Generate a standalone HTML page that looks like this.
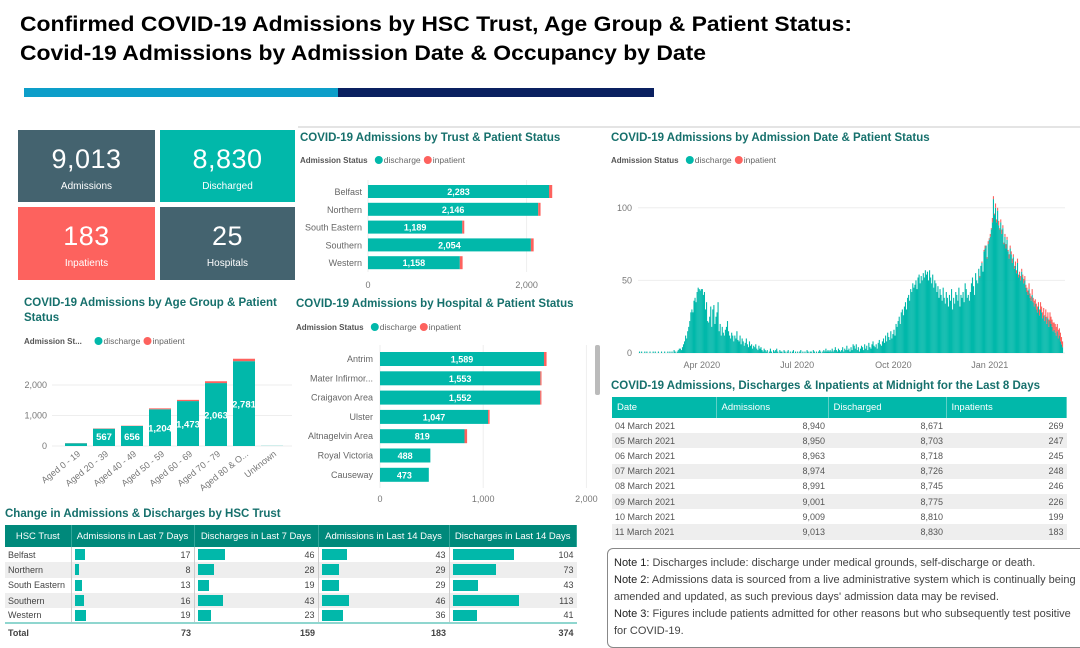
<!DOCTYPE html>
<html><head><meta charset="utf-8">
<style>
*{margin:0;padding:0;box-sizing:border-box}
body{width:1080px;height:645px;overflow:hidden;background:#fff;font-family:"Liberation Sans",sans-serif;position:relative}
.abs{position:absolute}
.card{position:absolute;color:#fff;text-align:center}
.card .num{position:absolute;left:0;right:0;top:14px;font-size:27px;letter-spacing:0.5px}
.card .lab{position:absolute;left:0;right:0;top:51px;font-size:10px}
table{border-collapse:collapse;position:absolute;font-size:9px;color:#444}
td,th{padding:0 3px;white-space:nowrap;overflow:hidden}
.t1 th{background:#00897b;color:#fff;font-weight:normal;font-size:9.5px;height:22px;border-right:1px solid #33a79b}
.t1 td{height:15.3px;position:relative}
.t1 tr.g td{background:#eeeeee}
.bar{position:absolute;left:3px;top:2px;height:11px;background:#01b8aa}
.t1 td.v{text-align:right;border-left:1px solid #ccc}
.t2 th{background:#01b8aa;color:#fff;font-weight:normal;font-size:9.5px;height:21px;text-align:left;padding-left:5px;border-right:1px solid #5fd0c7}
.t2 td{height:15.2px;color:#555}
.t2 tr.g td{background:#eeeeee}
.t2 td.r{text-align:right}
.notes{position:absolute;left:607px;top:548px;width:480px;height:100px;border:1px solid #888;border-radius:6px;padding:6px 6px;font-size:11px;line-height:17px;color:#444}
.notes b{font-weight:normal;color:#222}
</style></head>
<body>
<svg class="abs" style="left:0;top:0" width="1080" height="100">
<text x="20" y="31" font-family="Liberation Sans" font-weight="bold" font-size="21" textLength="832" lengthAdjust="spacingAndGlyphs">Confirmed COVID-19 Admissions by HSC Trust, Age Group &amp; Patient Status:</text>
<text x="20" y="60" font-family="Liberation Sans" font-weight="bold" font-size="21" textLength="686" lengthAdjust="spacingAndGlyphs">Covid-19 Admissions by Admission Date &amp; Occupancy by Date</text>
<rect x="24" y="88" width="314" height="9" fill="#0d9ec9"/>
<rect x="338" y="88" width="316" height="9" fill="#0a2060"/>
</svg>

<div class="card" style="left:18px;top:130px;width:137px;height:72px;background:#44636f"><div class="num">9,013</div><div class="lab">Admissions</div></div>
<div class="card" style="left:160px;top:130px;width:135px;height:72px;background:#01b8aa"><div class="num">8,830</div><div class="lab">Discharged</div></div>
<div class="card" style="left:18px;top:207px;width:137px;height:73px;background:#fd625e"><div class="num">183</div><div class="lab">Inpatients</div></div>
<div class="card" style="left:160px;top:207px;width:135px;height:73px;background:#44636f"><div class="num">25</div><div class="lab">Hospitals</div></div>

<svg id="charts" class="abs" style="left:0;top:0" width="1080" height="645"></svg>

<div class="abs" style="left:5px;top:508px;font-size:11.5px;font-weight:bold;color:#16706c">Change in Admissions &amp; Discharges by HSC Trust</div>
<table class="t1" style="left:5px;top:525px;width:572px">
<tr><th style="width:66px">HSC Trust</th><th style="width:123px">Admissions in Last 7 Days</th><th style="width:124px">Discharges in Last 7 Days</th><th style="width:131px">Admissions in Last 14 Days</th><th>Discharges in Last 14 Days</th></tr>
<tbody id="hscBody"></tbody>
<tr><td style="font-weight:bold;border-top:2px solid #8fd6cf;height:18px">Total</td><td class="v" style="font-weight:bold;border-top:2px solid #8fd6cf;border-left:none">73</td><td class="v" style="font-weight:bold;border-top:2px solid #8fd6cf;border-left:none">159</td><td class="v" style="font-weight:bold;border-top:2px solid #8fd6cf;border-left:none">183</td><td class="v" style="font-weight:bold;border-top:2px solid #8fd6cf;border-left:none">374</td></tr>
</table>

<div class="abs" style="left:611px;top:380px;font-size:11.5px;font-weight:bold;color:#16706c">COVID-19 Admissions, Discharges &amp; Inpatients at Midnight for the Last 8 Days</div>
<table class="t2" style="left:612px;top:397px;width:455px">
<tr><th style="width:104px">Date</th><th style="width:112px">Admissions</th><th style="width:118px">Discharged</th><th>Inpatients</th></tr>
<tbody id="dayBody"></tbody>
</table>

<div class="notes">
<div><b>Note 1:</b> Discharges include: discharge under medical grounds, self-discharge or death.</div>
<div><b>Note 2:</b> Admissions data is sourced from a live administrative system which is continually being amended and updated, as such previous days' admission data may be revised.</div>
<div><b>Note 3:</b> Figures include patients admitted for other reasons but who subsequently test positive for COVID-19.</div>
</div>

<script>
// ---- Trust chart data
const trustNames = ["Belfast","Northern","South Eastern","Southern","Western"];
const trustDischarge = [2283,2146,1189,2054,1158];
const trustInpatient = [40,30,25,35,35];
const trustTicks = [0,2000];
// ---- Age chart data
const ageNames = ["Aged 0 - 19","Aged 20 - 39","Aged 40 - 49","Aged 50 - 59","Aged 60 - 69","Aged 70 - 79","Aged 80 & O...","Unknown"];
const ageDischarge = [90,567,656,1204,1473,2063,2781,5];
const ageInpatient = [5,10,10,30,40,60,80,0];
const ageTicks = [0,1000,2000];
// ---- Hospital chart data
const hospNames = ["Antrim","Mater Infirmor...","Craigavon Area","Ulster","Altnagelvin Area","Royal Victoria","Causeway"];
const hospDischarge = [1589,1553,1552,1047,819,488,473];
const hospInpatient = [25,12,12,15,25,0,0];
const hospTicks = [0,1000,2000];
// ---- Daily admissions (from 2020-02-01 to 2021-03-11)
const dailyStart = "2020-02-01";
const dailyDischarge = [
1,0,1,0,0,1,0,1,0,0,1,0,0,1,0,1,0,0,1,0,0,1,0,0,1,0,0,1,0,
1,0,1,0,2,1,0,1,2,3,3,2,4,6,8,12,10,15,18,22,28,30,28,36,38,35,42,45,44,43,44,
44,40,42,30,35,22,21,25,32,18,30,33,20,25,28,35,15,20,12,18,14,12,16,18,22,15,12,10,14,12,
8,12,10,15,9,8,12,6,10,8,5,7,10,6,4,8,5,6,3,5,4,6,3,2,5,3,4,2,1,3,2,
1,2,0,1,3,1,0,2,1,2,3,1,0,2,1,1,0,2,1,0,1,2,0,1,0,1,2,0,1,0,
1,0,1,2,0,1,0,1,0,2,1,0,1,1,0,2,1,0,1,0,1,2,1,0,1,2,1,3,1,2,1,
2,1,3,1,2,4,2,1,3,2,1,2,4,1,3,2,5,2,3,1,4,2,6,5,3,6,2,4,1,3,5,
4,2,6,3,5,2,7,4,3,6,8,5,4,6,3,7,9,6,5,8,10,7,12,8,14,11,9,15,10,13,
16,12,20,18,22,25,20,28,30,26,32,35,30,38,40,36,44,42,48,45,47,50,44,52,54,48,53,50,55,52,57,
54,56,50,57,52,48,54,45,50,48,42,46,38,44,40,36,45,38,34,42,38,32,40,36,44,30,38,34,42,40,
36,45,32,40,38,42,35,48,44,38,40,36,42,48,52,46,40,55,50,48,58,52,60,62,56,70,72,74,65,75,78,
80,85,90,106,95,100,90,98,88,85,90,82,86,75,80,72,78,70,65,72,68,62,66,58,60,55,62,52,54,50,56,
52,48,50,45,42,40,44,38,36,40,35,32,34,30,28,32,26,30,28,24,26,22,25,20,24,18,22,20,
18,15,16,14,12,15,10,12,8,6,4];
const dailyInpatient = [
0,0,0,0,0,0,0,0,0,0,0,0,0,0,0,0,0,0,0,0,0,0,0,0,0,0,0,0,0,
0,0,0,0,0,0,0,0,0,0,0,0,0,0,0,0,0,0,0,0,0,0,0,0,0,0,0,0,0,0,0,
0,0,0,0,0,0,0,0,0,0,0,0,0,0,0,0,0,0,0,0,0,0,0,0,0,0,0,0,0,0,
0,0,0,0,0,0,0,0,0,0,0,0,0,0,0,0,0,0,0,0,0,0,0,0,0,0,0,0,0,0,0,
0,0,0,0,0,0,0,0,0,0,0,0,0,0,0,0,0,0,0,0,0,0,0,0,0,0,0,0,0,0,
0,0,0,0,0,0,0,0,0,0,0,0,0,0,0,0,0,0,0,0,0,0,0,0,0,0,0,0,0,0,0,
0,0,0,0,0,0,0,0,0,0,0,0,0,0,0,0,0,0,0,0,0,0,0,0,0,0,0,0,0,0,0,
0,0,0,0,0,0,0,0,0,0,0,0,0,0,0,0,0,0,0,0,0,0,0,0,0,0,0,0,0,0,
0,0,0,0,0,0,0,0,0,0,0,0,0,0,0,0,0,0,0,0,0,0,0,0,0,0,0,0,0,0,0,
0,0,0,0,0,0,0,0,0,0,0,0,0,0,0,0,0,0,0,0,0,0,0,0,0,0,0,0,0,0,
0,0,0,0,0,0,0,0,0,0,0,0,0,0,0,0,0,0,0,0,0,1,0,1,0,1,2,0,1,2,1,
2,1,3,2,1,3,2,2,3,1,2,3,2,1,2,3,2,1,3,2,2,3,2,2,3,2,3,2,2,3,2,
2,3,3,2,3,3,4,3,3,4,3,4,3,4,4,3,4,5,4,4,5,4,5,5,4,5,6,5,
5,6,5,6,6,5,6,5,6,5,4];
const dailyTicks = ["2020-04-01","2020-07-01","2020-10-01","2021-01-01"];
const dailyTickLabels = ["Apr 2020","Jul 2020","Oct 2020","Jan 2021"];
const dailyYTicks = [0,50,100];
// ---- Tables
const hscTrusts = ["Belfast","Northern","South Eastern","Southern","Western"];
const hscAdm7 = [17,8,13,16,19];
const hscDis7 = [46,28,19,43,23];
const hscAdm14 = [43,29,29,46,36];
const hscDis14 = [104,73,43,113,41];
const dayDates = ["04 March 2021","05 March 2021","06 March 2021","07 March 2021","08 March 2021","09 March 2021","10 March 2021","11 March 2021"];
const dayAdm = ["8,940","8,950","8,963","8,974","8,991","9,001","9,009","9,013"];
const dayDis = ["8,671","8,703","8,718","8,726","8,745","8,775","8,810","8,830"];
const dayInp = ["269","247","245","248","246","226","199","183"];

const NS="http://www.w3.org/2000/svg";
const svg=document.getElementById('charts');
const TEAL="#01b8aa",RED="#fd625e",TITLE="#16706c",AX="#777";
function mk(tag,attrs,parent){const e=document.createElementNS(NS,tag);for(const k in attrs)e.setAttribute(k,attrs[k]);(parent||svg).appendChild(e);return e;}
function txt(x,y,s,attrs){const e=mk('text',Object.assign({x:x,y:y,'font-family':'Liberation Sans, sans-serif'},attrs));e.textContent=s;return e;}
const fmt=v=>v.toLocaleString('en-US');

function legend(x,y,label){
  const g=mk('g',{});
  
  
  txt(x,y,label,{'font-size':8,fill:'#555','font-weight':'bold'},);
  const w=label.length*4.3+6;
  mk('circle',{cx:x+w+4,cy:y-3,r:4,fill:TEAL},g);
  txt(x+w+9,y,'discharge',{'font-size':8.5,fill:'#666'});
  mk('circle',{cx:x+w+53,cy:y-3,r:4,fill:RED},g);
  txt(x+w+58,y,'inpatient',{'font-size':8.5,fill:'#666'});
}
function title(x,y,s,name){const t=txt(x,y,s,{'font-size':11.5,'font-weight':'bold',fill:TITLE});}

mk('line',{x1:298,y1:127,x2:1080,y2:127,stroke:'#c8c8c8','stroke-width':1});

// ---------- Trust chart
title(300,141,'COVID-19 Admissions by Trust & Patient Status','trust-chart-title');
legend(300,163,'Admission Status');
const tX=v=>368+v*0.0793, tY=i=>185+i*17.8;
trustTicks.forEach(t=>{mk('line',{x1:tX(t),y1:180,x2:tX(t),y2:272,stroke:'#eee'});txt(tX(t),288,fmt(t),{'font-size':9,fill:AX,'text-anchor':'middle'});});
trustNames.forEach((n,i)=>{
  const y=tY(i);
  txt(362,y+10,n,{'font-size':9,fill:'#666','text-anchor':'end'});
  const b=mk('rect',{x:tX(0),y:y,width:tX(trustDischarge[i])-tX(0),height:13,fill:TEAL});
  
  
  const r=mk('rect',{x:tX(trustDischarge[i]),y:y,width:tX(trustInpatient[i])-tX(0),height:13,fill:RED});
  
  
  txt((tX(0)+tX(trustDischarge[i]))/2,y+10,fmt(trustDischarge[i]),{'font-size':9,fill:'#fff','text-anchor':'middle','font-weight':'bold'});
});

// ---------- Age chart
title(24,306,'COVID-19 Admissions by Age Group & Patient','age-chart-title');
title(24,321,'Status','age-chart-title-2');
legend(24,344,'Admission St...');
const aY=v=>446-v*0.0305, aX=i=>76+i*28;
ageTicks.forEach(t=>{mk('line',{x1:52,y1:aY(t),x2:292,y2:aY(t),stroke:'#eee'});txt(47,aY(t)+3,fmt(t),{'font-size':9,fill:AX,'text-anchor':'end'});});
ageNames.forEach((n,i)=>{
  const cx=aX(i);
  const b=mk('rect',{x:cx-11,y:aY(ageDischarge[i]),width:22,height:aY(0)-aY(ageDischarge[i]),fill:TEAL});
  
  
  const r=mk('rect',{x:cx-11,y:aY(ageDischarge[i]+ageInpatient[i]),width:22,height:aY(0)-aY(ageInpatient[i]),fill:RED});
  
  
  if(ageDischarge[i]>400){const big=ageDischarge[i]>1000;txt(cx,big?(aY(ageDischarge[i])+aY(0))/2+4:aY(0)-6,fmt(ageDischarge[i]),{'font-size':9.5,fill:'#fff','text-anchor':'middle','font-weight':'bold'});}
  txt(cx+5,455,n,{'font-size':9,fill:AX,'text-anchor':'end',transform:`rotate(-38 ${cx+5} 455)`});
});

// ---------- Hospital chart
title(296,307,'COVID-19 Admissions by Hospital & Patient Status','hospital-chart-title');
legend(296,330,'Admission Status');
const hX=v=>380+v*0.1032, hY=i=>352+i*19.3;
hospTicks.forEach(t=>{mk('line',{x1:hX(t),y1:345,x2:hX(t),y2:488,stroke:'#eee'});txt(hX(t),502,fmt(t),{'font-size':9,fill:AX,'text-anchor':'middle'});});
hospNames.forEach((n,i)=>{
  const y=hY(i);
  txt(373,y+10,n,{'font-size':9,fill:'#666','text-anchor':'end'});
  const b=mk('rect',{x:hX(0),y:y,width:hX(hospDischarge[i])-hX(0),height:14,fill:TEAL});
  
  
  const r=mk('rect',{x:hX(hospDischarge[i]),y:y,width:hX(hospInpatient[i])-hX(0),height:14,fill:RED});
  
  
  txt((hX(0)+hX(hospDischarge[i]))/2,y+10.5,fmt(hospDischarge[i]),{'font-size':9,fill:'#fff','text-anchor':'middle','font-weight':'bold'});
});
const sb=mk('rect',{x:595,y:345,width:5,height:50,rx:2,fill:'#bbb'});



// ---------- Daily chart
title(611,141,'COVID-19 Admissions by Admission Date & Patient Status','daily-chart-title');
legend(611,163,'Admission Status');
const d0=new Date(dailyStart+"T00:00:00Z").getTime();
const dayIdx=s=>(new Date(s+"T00:00:00Z").getTime()-d0)/86400000;
const dX=i=>639+i*1.047, dY=v=>353-v*1.452;
dailyYTicks.forEach(t=>{mk('line',{x1:638,y1:dY(t),x2:1065,y2:dY(t),stroke:'#eee'});txt(632,dY(t)+3,fmt(t),{'font-size':9,fill:AX,'text-anchor':'end'});});
dailyTicks.forEach((d,k)=>txt(dX(dayIdx(d)),368,dailyTickLabels[k],{'font-size':9,fill:AX,'text-anchor':'middle'}));
dailyDischarge.forEach((v,i)=>{
  const b=mk('rect',{x:dX(i),y:dY(v),width:1.1,height:dY(0)-dY(v),fill:TEAL});
  
  
  const ip=dailyInpatient[i];
  if(ip>0){
    const r=mk('rect',{x:dX(i),y:dY(v+ip),width:1.1,height:dY(0)-dY(ip),fill:RED});
    
    
  }
});

// ---------- tables
const hb=document.getElementById('hscBody');
const cols=[hscAdm7,hscDis7,hscAdm14,hscDis14];
hscTrusts.forEach((n,i)=>{
  const tr=document.createElement('tr');
  
  
  if(i%2)tr.className='g';
  let h=`<td>${n}</td>`;
  cols.forEach(c=>{h+=`<td class="v"><div class="bar" style="width:${c[i]*0.59}px"></div>${c[i]}</td>`;});
  tr.innerHTML=h;hb.appendChild(tr);
});
const db=document.getElementById('dayBody');
dayDates.forEach((d,i)=>{
  const tr=document.createElement('tr');
  
  
  if(i%2)tr.className='g';
  tr.innerHTML=`<td>${d}</td><td class="r">${dayAdm[i]}</td><td class="r">${dayDis[i]}</td><td class="r">${dayInp[i]}</td>`;
  db.appendChild(tr);
});
</script>
</body></html>
